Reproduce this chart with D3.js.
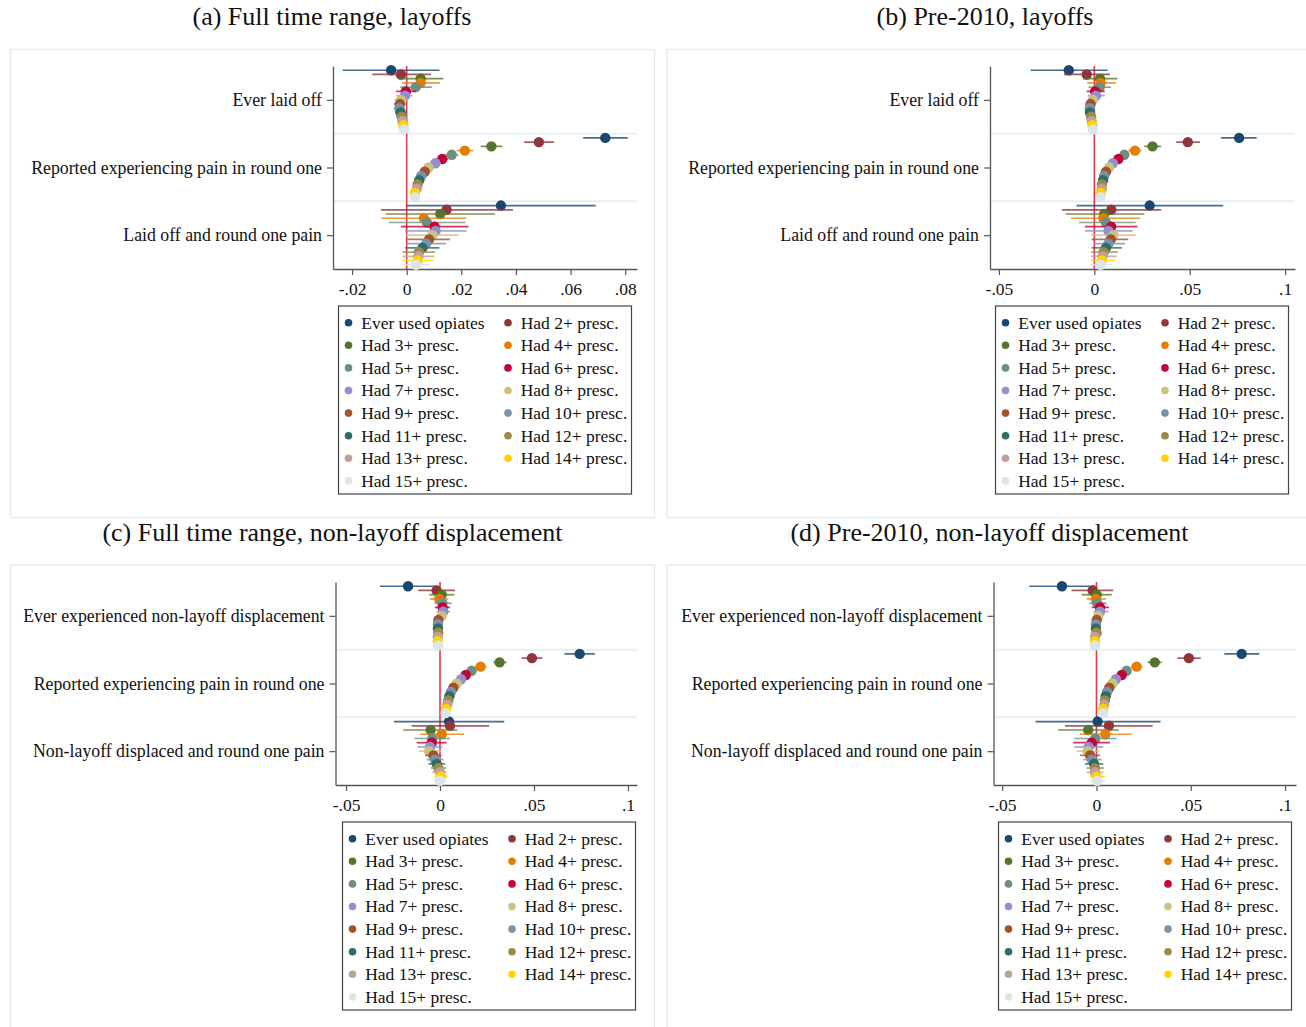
<!DOCTYPE html>
<html>
<head>
<meta charset="utf-8">
<script src="https://cdn.jsdelivr.net/npm/d3@7"></script>
<style>
  body { margin: 0; background: #fff; }
  svg text { font-family: "Liberation Serif", "Times New Roman", serif; fill: #111; }
</style>
</head>
<body>
<svg id="chart" width="1306" height="1027"></svg>
<script>
// ---- data ----
const seriesNames = ["Ever used opiates", "Had 2+ presc.", "Had 3+ presc.", "Had 4+ presc.",
  "Had 5+ presc.", "Had 6+ presc.", "Had 7+ presc.", "Had 8+ presc.", "Had 9+ presc.",
  "Had 10+ presc.", "Had 11+ presc.", "Had 12+ presc.", "Had 13+ presc.", "Had 14+ presc.",
  "Had 15+ presc."];
const seriesColors = ["#1a476f", "#90353b", "#55752f", "#e37e00", "#6e8e84", "#c10534",
  "#938dd2", "#cac27e", "#a0522d", "#7b92a8", "#2d6d66", "#9c8847", "#bfa19c", "#ffd200",
  "#d9e6eb"];

const layoffLabels = ["Ever laid off", "Reported experiencing pain in round one",
  "Laid off and round one pain"];
const nonLayoffLabels = ["Ever experienced non-layoff displacement",
  "Reported experiencing pain in round one", "Non-layoff displaced and round one pain"];

const ticksNarrow = [-0.02, 0, 0.02, 0.04, 0.06, 0.08];
const ticksWide = [-0.05, 0, 0.05, 0.1];

// (a) full time range, layoffs  -- one row per coefficient, one value per series
const aEst = [
  [-0.0057, -0.0021, 0.0051, 0.0051, 0.0033, -0.0003, -0.0006, -0.0021, -0.0025, -0.0027, -0.0022, -0.0018, -0.0016, -0.0012, -0.0010],
  [0.0727, 0.0484, 0.0310, 0.0213, 0.0165, 0.0130, 0.0105, 0.0080, 0.0066, 0.0053, 0.0046, 0.0040, 0.0037, 0.0030, 0.0030],
  [0.0345, 0.0146, 0.0123, 0.0063, 0.0074, 0.0102, 0.0106, 0.0094, 0.0082, 0.0071, 0.0058, 0.0045, 0.0043, 0.0040, 0.0034]
];
const aLo = [
  [-0.0234, -0.0126, -0.0031, -0.0016, -0.0024, -0.0039, -0.0037, -0.0046, -0.0047, -0.0047, -0.0042, -0.0038, -0.0035, -0.0031, -0.0028],
  [0.0646, 0.0430, 0.0271, 0.0183, 0.0140, 0.0108, 0.0085, 0.0063, 0.0051, 0.0040, 0.0034, 0.0029, 0.0026, 0.0020, 0.0020],
  [0.0000, -0.0094, -0.0077, -0.0092, -0.0065, -0.0021, -0.0006, -0.0003, 0.0002, 0.0000, -0.0006, -0.0015, -0.0015, -0.0015, -0.0016]
];
const aHi = [
  [0.0120, 0.0089, 0.0134, 0.0122, 0.0093, 0.0034, 0.0022, 0.0004, -0.0003, -0.0007, -0.0002, 0.0002, 0.0003, 0.0007, 0.0008],
  [0.0809, 0.0540, 0.0350, 0.0244, 0.0190, 0.0152, 0.0125, 0.0097, 0.0081, 0.0066, 0.0058, 0.0051, 0.0048, 0.0040, 0.0040],
  [0.0692, 0.0389, 0.0323, 0.0218, 0.0215, 0.0226, 0.0220, 0.0190, 0.0158, 0.0144, 0.0120, 0.0104, 0.0101, 0.0097, 0.0085]
];

// (b) pre-2010, layoffs
const bEst = [
  [-0.0134, -0.0040, 0.0030, 0.0033, 0.0028, 0.0004, 0.0009, -0.0008, -0.0020, -0.0024, -0.0023, -0.0017, -0.0014, -0.0010, -0.0007],
  [0.0759, 0.0490, 0.0305, 0.0213, 0.0157, 0.0126, 0.0097, 0.0077, 0.0061, 0.0051, 0.0046, 0.0040, 0.0039, 0.0033, 0.0033],
  [0.0290, 0.0089, 0.0052, 0.0047, 0.0061, 0.0088, 0.0074, 0.0100, 0.0086, 0.0074, 0.0061, 0.0049, 0.0044, 0.0039, 0.0033]
];
const bLo = [
  [-0.0334, -0.0159, -0.0058, -0.0037, -0.0031, -0.0040, -0.0035, -0.0035, -0.0040, -0.0042, -0.0040, -0.0035, -0.0032, -0.0028, -0.0025],
  [0.0664, 0.0429, 0.0262, 0.0178, 0.0130, 0.0102, 0.0077, 0.0060, 0.0046, 0.0038, 0.0034, 0.0029, 0.0028, 0.0023, 0.0023],
  [-0.0093, -0.0171, -0.0150, -0.0122, -0.0080, -0.0049, -0.0049, -0.0018, -0.0014, -0.0005, -0.0014, -0.0017, -0.0017, -0.0017, -0.0023]
];
const bHi = [
  [0.0070, 0.0082, 0.0121, 0.0112, 0.0087, 0.0055, 0.0055, 0.0020, 0.0000, -0.0006, -0.0006, 0.0001, 0.0004, 0.0008, 0.0011],
  [0.0851, 0.0554, 0.0350, 0.0248, 0.0184, 0.0150, 0.0117, 0.0094, 0.0076, 0.0064, 0.0058, 0.0051, 0.0050, 0.0043, 0.0043],
  [0.0676, 0.0350, 0.0262, 0.0240, 0.0217, 0.0226, 0.0200, 0.0217, 0.0178, 0.0161, 0.0144, 0.0123, 0.0117, 0.0109, 0.0091]
];

// (c) full time range, non-layoff displacement
const cEst = [
  [-0.0170, -0.0018, 0.0009, -0.0004, 0.0012, 0.0014, 0.0018, 0.0009, -0.0009, -0.0011, -0.0011, -0.0009, -0.0012, -0.0012, -0.0009],
  [0.0743, 0.0489, 0.0317, 0.0216, 0.0168, 0.0137, 0.0112, 0.0089, 0.0071, 0.0058, 0.0050, 0.0044, 0.0039, 0.0032, 0.0030],
  [0.0048, 0.0053, -0.0050, 0.0009, -0.0041, -0.0044, -0.0053, -0.0058, -0.0035, -0.0027, -0.0018, -0.0009, 0.0000, 0.0005, 0.0000]
];
const cLo = [
  [-0.0319, -0.0116, -0.0057, -0.0053, -0.0030, -0.0027, -0.0018, -0.0020, -0.0030, -0.0030, -0.0030, -0.0028, -0.0030, -0.0030, -0.0028],
  [0.0662, 0.0434, 0.0284, 0.0186, 0.0142, 0.0114, 0.0092, 0.0072, 0.0056, 0.0045, 0.0038, 0.0033, 0.0029, 0.0023, 0.0021],
  [-0.0245, -0.0151, -0.0195, -0.0106, -0.0137, -0.0124, -0.0119, -0.0112, -0.0080, -0.0071, -0.0062, -0.0048, -0.0041, -0.0030, -0.0035]
];
const cHi = [
  [-0.0012, 0.0080, 0.0076, 0.0044, 0.0062, 0.0053, 0.0053, 0.0035, 0.0012, 0.0010, 0.0010, 0.0012, 0.0008, 0.0008, 0.0010],
  [0.0824, 0.0544, 0.0355, 0.0246, 0.0194, 0.0160, 0.0132, 0.0106, 0.0086, 0.0071, 0.0062, 0.0055, 0.0049, 0.0041, 0.0039],
  [0.0342, 0.0261, 0.0092, 0.0128, 0.0053, 0.0035, 0.0012, 0.0005, 0.0009, 0.0018, 0.0027, 0.0032, 0.0035, 0.0041, 0.0035]
];

// (d) pre-2010, non-layoff displacement
const dEst = [
  [-0.0183, -0.0020, 0.0001, -0.0003, 0.0004, 0.0019, 0.0019, 0.0010, 0.0001, -0.0003, -0.0003, 0.0001, -0.0008, -0.0008, -0.0008],
  [0.0770, 0.0490, 0.0309, 0.0213, 0.0160, 0.0134, 0.0103, 0.0084, 0.0068, 0.0056, 0.0049, 0.0045, 0.0041, 0.0036, 0.0036],
  [0.0006, 0.0066, -0.0044, 0.0047, -0.0006, -0.0025, -0.0041, -0.0047, -0.0034, -0.0025, -0.0013, -0.0008, -0.0008, 0.0001, 0.0004]
];
const dLo = [
  [-0.0356, -0.0132, -0.0079, -0.0052, -0.0038, -0.0025, -0.0017, -0.0012, -0.0021, -0.0025, -0.0025, -0.0021, -0.0030, -0.0030, -0.0030],
  [0.0678, 0.0429, 0.0271, 0.0183, 0.0135, 0.0111, 0.0083, 0.0067, 0.0053, 0.0043, 0.0037, 0.0034, 0.0031, 0.0026, 0.0026],
  [-0.0323, -0.0167, -0.0203, -0.0088, -0.0118, -0.0123, -0.0118, -0.0105, -0.0088, -0.0070, -0.0061, -0.0052, -0.0052, -0.0034, -0.0034]
];
const dHi = [
  [-0.0008, 0.0089, 0.0081, 0.0050, 0.0054, 0.0066, 0.0063, 0.0032, 0.0023, 0.0019, 0.0019, 0.0023, 0.0014, 0.0014, 0.0014],
  [0.0864, 0.0553, 0.0347, 0.0243, 0.0185, 0.0157, 0.0123, 0.0101, 0.0083, 0.0069, 0.0061, 0.0056, 0.0051, 0.0046, 0.0046],
  [0.0340, 0.0298, 0.0118, 0.0187, 0.0107, 0.0072, 0.0036, 0.0015, 0.0019, 0.0027, 0.0036, 0.0040, 0.0036, 0.0045, 0.0045]
];

// ---- layout ----
const panels = [
  { title: "(a) Full time range, layoffs", est: aEst, lo: aLo, hi: aHi, labels: layoffLabels,
    ticks: ticksNarrow, frame: [10.5, 49.5], titleX: 332, titleY: 25,
    plot: { l: 333, r: 637, t: 66, b: 269 }, xDomain: [-0.02697, 0.08431], legend: [338.5, 306] },
  { title: "(b) Pre-2010, layoffs", est: bEst, lo: bLo, hi: bHi, labels: layoffLabels,
    ticks: ticksWide, frame: [667, 49.5], titleX: 985, titleY: 25,
    plot: { l: 990, r: 1295, t: 66, b: 269 }, xDomain: [-0.0547, 0.1052], legend: [995.5, 306] },
  { title: "(c) Full time range, non-layoff displacement", est: cEst, lo: cLo, hi: cHi, labels: nonLayoffLabels,
    ticks: ticksWide, frame: [10.5, 565], titleX: 332.5, titleY: 541,
    plot: { l: 335.5, r: 637, t: 582, b: 785 }, xDomain: [-0.0556, 0.1048], legend: [342.5, 822] },
  { title: "(d) Pre-2010, non-layoff displacement", est: dEst, lo: dLo, hi: dHi, labels: nonLayoffLabels,
    ticks: ticksWide, frame: [667, 565], titleX: 989.5, titleY: 541,
    plot: { l: 993.5, r: 1296, t: 582, b: 785 }, xDomain: [-0.0546, 0.1058], legend: [998.5, 822] }
];

const svg = d3.select("#chart");
const fmtTick = v => v === 0 ? "0" : String(v).replace("0.", ".");
const offset = s => (s - 7) * 0.0625;

panels.forEach(p => {
  const g = svg.append("g");

  g.append("rect")
    .attr("x", p.frame[0]).attr("y", p.frame[1])
    .attr("width", 644).attr("height", 468)
    .attr("fill", "#fff").attr("stroke", "#e4edef").attr("stroke-width", 1.5);

  g.append("text")
    .attr("x", p.titleX).attr("y", p.titleY)
    .attr("text-anchor", "middle")
    .style("font-size", "26px")
    .text(p.title);

  const x = d3.scaleLinear().domain(p.xDomain).range([p.plot.l, p.plot.r]);
  const y = d3.scaleLinear().domain([0.5, 3.5]).range([p.plot.t, p.plot.b]);

  // group separators
  g.selectAll(".sep").data([1.5, 2.5]).enter().append("line")
    .attr("x1", p.plot.l).attr("x2", p.plot.r)
    .attr("y1", d => y(d)).attr("y2", d => y(d))
    .attr("stroke", "#e6eff1").attr("stroke-width", 2);

  // reference line at zero
  g.append("line")
    .attr("x1", x(0)).attr("x2", x(0))
    .attr("y1", p.plot.t).attr("y2", p.plot.b)
    .attr("stroke", "#dc3b52").attr("stroke-width", 1.6);

  // axes
  const xAxis = g.append("g")
    .attr("transform", `translate(0,${p.plot.b})`)
    .call(d3.axisBottom(x).tickValues(p.ticks).tickFormat(fmtTick).tickSize(6).tickSizeOuter(0));
  xAxis.selectAll("text").attr("dy", null).attr("y", 26)
    .style("font-size", "17.5px").attr("fill", "#111");

  const yAxis = g.append("g")
    .attr("transform", `translate(${p.plot.l},0)`)
    .call(d3.axisLeft(y).tickValues([1, 2, 3]).tickFormat(d => p.labels[d - 1])
      .tickSize(6).tickPadding(5).tickSizeOuter(0));
  yAxis.selectAll("text").style("font-size", "17.8px").attr("fill", "#111");

  [xAxis, yAxis].forEach(a => {
    a.select(".domain").attr("stroke", "#555").attr("stroke-width", 1.3);
    a.selectAll(".tick line").attr("stroke", "#555").attr("stroke-width", 1.2);
  });

  // coefficients: each series draws its intervals then its markers
  seriesNames.forEach((name, s) => {
    const pts = [0, 1, 2].map(c => ({
      est: p.est[c][s], lo: p.lo[c][s], hi: p.hi[c][s], pos: c + 1 + offset(s)
    }));
    const sg = g.append("g");
    sg.selectAll("line").data(pts).enter().append("line")
      .attr("x1", d => x(d.lo)).attr("x2", d => x(d.hi))
      .attr("y1", d => y(d.pos)).attr("y2", d => y(d.pos))
      .attr("stroke", seriesColors[s]).attr("stroke-opacity", 0.8).attr("stroke-width", 1.7);
    sg.selectAll("circle").data(pts).enter().append("circle")
      .attr("cx", d => x(d.est)).attr("cy", d => y(d.pos)).attr("r", 5.2)
      .attr("fill", seriesColors[s]);
  });

  // legend
  const lg = g.append("g").attr("transform", `translate(${p.legend[0]},${p.legend[1]})`);
  lg.append("rect").attr("width", 293).attr("height", 188)
    .attr("fill", "#fff").attr("stroke", "#444").attr("stroke-width", 1.2);
  const items = lg.selectAll(".item").data(seriesNames).enter().append("g")
    .attr("transform", (d, i) => `translate(${i % 2 ? 169.5 : 10},${16.7 + Math.floor(i / 2) * 22.6})`);
  items.append("circle").attr("r", 3.8).attr("fill", (d, i) => seriesColors[i]);
  items.append("text").attr("x", 12.7).attr("y", 5.8)
    .style("font-size", "17.5px").text(d => d);
});
</script>
</body>
</html>
